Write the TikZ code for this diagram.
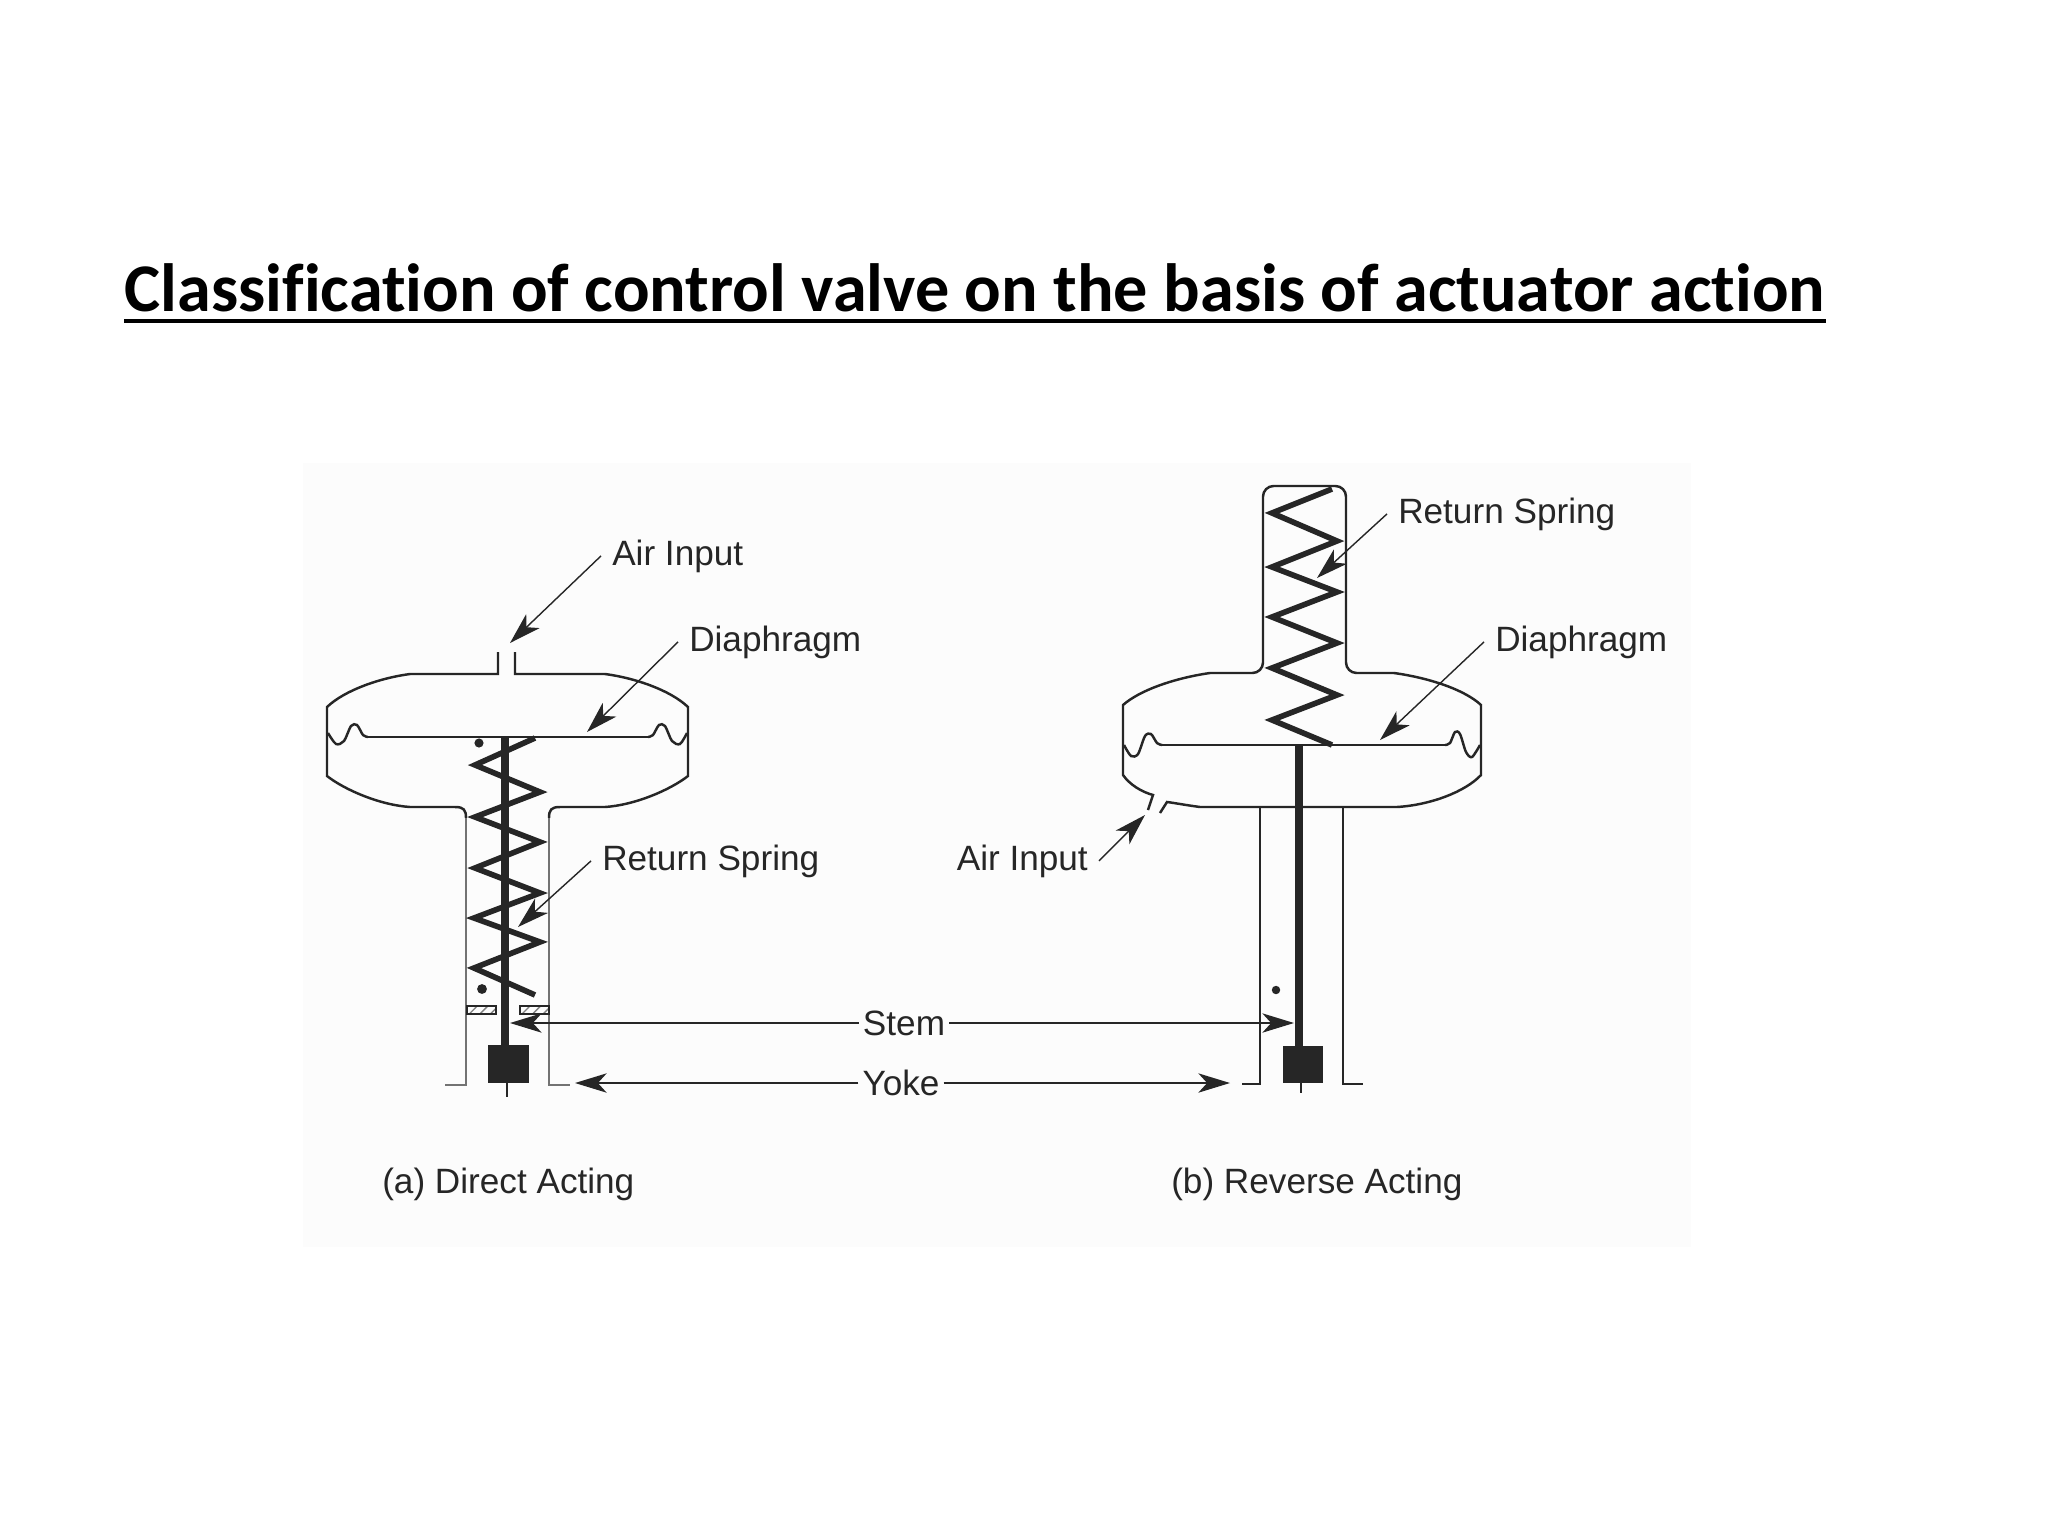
\documentclass[tikz,border=0pt]{standalone}
\usepackage{fontspec}
\setmainfont{Liberation Sans}
\newfontfamily\titlefont[Ligatures=NoCommon]{Carlito}
\usetikzlibrary{arrows.meta,patterns}
\definecolor{figbg}{RGB}{252,252,252}
\definecolor{ink}{RGB}{38,38,38}

\begin{document}
\begin{tikzpicture}[x=0.01cm,y=-0.01cm,
    housing/.style={draw=ink,line width=0.7pt},
    yokeline/.style={draw=black!55,line width=0.8pt},
    spring/.style={draw=ink,line width=1.6pt,line join=miter},
    stemrod/.style={draw=ink,line width=2.4pt},
    leader/.style={draw=ink,line width=0.4pt,-{Stealth[length=9pt,width=5.5pt,inset=2.5pt]}},
    lbl/.style={inner sep=3pt,anchor=base west,text=ink,font=\fontsize{10pt}{12pt}\selectfont},
    packing/.style={draw=ink,line width=0.4pt,pattern=north east lines,pattern color=black!50}]
    \useasboundingbox (0,0) rectangle (2048,1536);
    \fill[figbg] (303,463) rectangle (1691,1247);

    % title
    \node[anchor=base west,inner sep=0,font=\titlefont\bfseries\fontsize{19.4pt}{23pt}\selectfont] (title) at (124,311) {Classification of control valve on the basis of actuator action};
    \draw[line width=1.1pt] ([yshift=-2.8pt]title.base west) -- ([yshift=-2.8pt]title.base east);

    % (a) direct acting
    \draw[housing] (498,652) -- (498,674) -- (410,674) .. controls (380,678) and (345,690) .. (327,707) -- (327,776) .. controls (345,790) and (380,805) .. (410,807) -- (455,807) .. controls (464,807) and (466,810) .. (466,818);
    \draw[housing] (515,652) -- (515,674) -- (605,674) .. controls (635,678) and (670,690) .. (688,707) -- (688,776) .. controls (670,790) and (635,805) .. (605,807) -- (560,807) .. controls (551,807) and (549,810) .. (549,818);
    \draw[yokeline] (466,818) -- (466,1085) -- (445,1085);
    \draw[yokeline] (549,818) -- (549,1085) -- (570,1085);
    \draw[housing] plot[smooth] coordinates {(328,733) (336,744) (344,741) (351,726) (357,725) (363,735) (368,737)};
    \draw[housing] (368,737) -- (648,737);
    \draw[housing] plot[smooth] coordinates {(648,737) (653,735) (659,725) (665,726) (672,741) (680,744) (687,733)};
    \draw[spring] (535,738) -- (475,765) -- (540,792) -- (475,817) -- (540,842) -- (475,868) -- (540,893) -- (474,918) -- (540,942) -- (474,968) -- (535,995);
    \draw[stemrod] (505,737) -- (505,1046);
    \fill[ink] (488,1045) rectangle (529,1083);
    \draw[ink,line width=0.6pt] (507,1083) -- (507,1097);
    \fill[ink] (479,743) circle (1.3pt);
    \fill[ink] (482,989) circle (1.4pt);
    \draw[packing] (467,1006) rectangle (496,1014);
    \draw[packing] (520,1006) rectangle (549,1014);

    \node[lbl] (airA) at (601,565) {Air Input};
    \coordinate (airAtip) at (510,643);
    \draw[leader] (airA.west) -- (airAtip);
    \node[lbl] (diaA) at (678,651) {Diaphragm};
    \coordinate (diaAtip) at (587,732);
    \draw[leader] (diaA.west) -- (diaAtip);
    \node[lbl] (sprA) at (591,870) {Return Spring};
    \coordinate (sprAtip) at (518,927);
    \draw[leader] (sprA.west) -- (sprAtip);

    % (b) reverse acting
    \draw[housing,rounded corners=3pt] (1210,673) -- (1263,673) -- (1263,486) -- (1346,486) -- (1346,673) -- (1394,673);
    \draw[housing] (1210,673) .. controls (1175,678) and (1140,690) .. (1123,705) -- (1123,775) .. controls (1130,785) and (1142,792) .. (1153,795) -- (1148,810);
    \draw[housing] (1160,813) -- (1167,802) .. controls (1175,803) and (1185,805) .. (1200,807) -- (1397,807) .. controls (1430,805) and (1465,792) .. (1481,775) -- (1481,705) .. controls (1465,690) and (1430,678) .. (1394,673);
    \draw[housing] (1260,807) -- (1260,1084) -- (1242,1084);
    \draw[housing] (1343,807) -- (1343,1084) -- (1363,1084);
    \draw[housing] plot[smooth] coordinates {(1124,745) (1131,756) (1138,754) (1145,736) (1151,734) (1157,743) (1162,745)};
    \draw[housing] (1162,745) -- (1445,745);
    \draw[housing] plot[smooth] coordinates {(1445,745) (1450,743) (1455,732) (1460,734) (1466,752) (1472,757) (1480,745)};
    \draw[spring] (1332,489) -- (1272,513) -- (1337,541) -- (1272,567) -- (1337,592) -- (1272,617) -- (1337,643) -- (1272,668) -- (1337,695) -- (1272,720) -- (1332,745);
    \draw[stemrod] (1299,745) -- (1299,1047);
    \fill[ink] (1283,1046) rectangle (1323,1083);
    \draw[ink,line width=0.6pt] (1301,1083) -- (1301,1093);
    \fill[ink] (1276,990) circle (1.2pt);

    \node[lbl] (sprB) at (1387,523) {Return Spring};
    \coordinate (sprBtip) at (1317,578);
    \draw[leader] (sprB.west) -- (sprBtip);
    \node[lbl] (diaB) at (1484,651) {Diaphragm};
    \coordinate (diaBtip) at (1380,740);
    \draw[leader] (diaB.west) -- (diaBtip);
    \node[lbl,anchor=base east] (airB) at (1099,870) {Air Input};
    \coordinate (airBtip) at (1145,815);
    \draw[leader] (airB.east) -- (airBtip);

    % stem and yoke
    \node[inner sep=1pt,text=ink,font=\fontsize{10pt}{12pt}\selectfont] (stem) at (904,1023) {Stem};
    \coordinate (stemA) at (510,1023);
    \coordinate (stemB) at (1294,1023);
    \draw[leader] (stem.west) -- (stemA);
    \draw[leader] (stem.east) -- (stemB);
    \node[inner sep=1pt,text=ink,font=\fontsize{10pt}{12pt}\selectfont] (yoke) at (901,1083) {Yoke};
    \coordinate (yokeA) at (575,1083);
    \coordinate (yokeB) at (1230,1083);
    \draw[leader] (yoke.west) -- (yokeA);
    \draw[leader] (yoke.east) -- (yokeB);

    \node[lbl] (capA) at (371,1193) {(a) Direct Acting};
    \node[lbl] (capB) at (1160,1193) {(b) Reverse Acting};
\end{tikzpicture}
\end{document}
